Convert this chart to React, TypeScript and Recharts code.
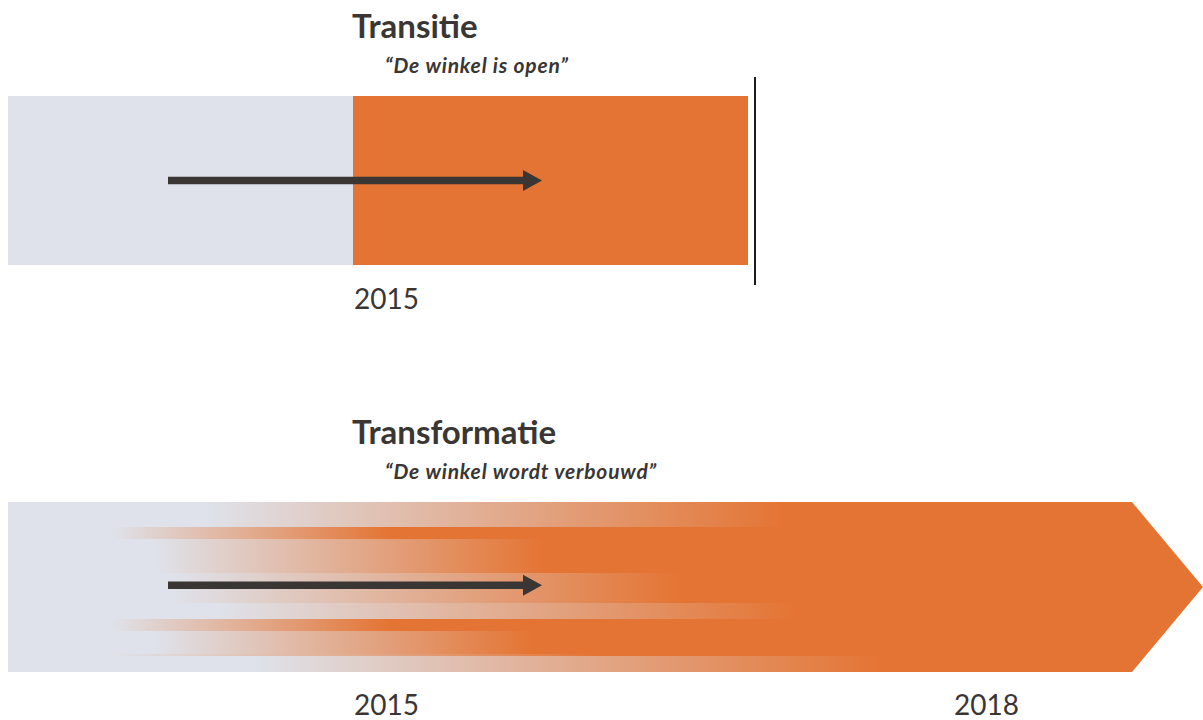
import { ComposedChart, XAxis, YAxis, ReferenceArea, ReferenceLine } from 'recharts'

// tijdas (jaren)
const START = 2013.275
const END = 2019.25
const transitieTicks = [2015]
const transformatieTicks = [2015, 2018]

// Transitie: grijs deel, oranje deel, eindstreep
const transitieGrey = [START, 2015]
const transitieOrange = [2015, 2016.975]
const transitieEnd = 2017.01
const transitieLine = [-0.112, 1.118]

// pijl "nu -> straks"
const arrowFrom = 2014.075
const arrowTo = 2015.945
const arrowLevel = [0.5, 0.49]

// Transformatie: banden van boven naar onder (fractie van balkhoogte)
const bandTop = [0, 0.147, 0.218, 0.418, 0.594, 0.688, 0.759, 0.894, 0.906]
const bandBottom = [0.147, 0.218, 0.418, 0.594, 0.688, 0.759, 0.894, 0.906, 1]
const fadeStart = [2014.27, 2013.795, 2014.01, 2014.1, 2014.325, 2013.795, 2014.01, 2013.795, 2014.5]
const fadeEnd = [2017.165, 2015.185, 2015.96, 2016.65, 2017.225, 2015.185, 2015.905, 2016.235, 2017.655]
const shoulder = 2018.895

const GREY = '#dfe2ea'
const ORANGE = '#e47433'
const INK = '#3a3634'
const FONT = 'Lato, "Open Sans", sans-serif'
const W = 1203

const YearTick = ({ x, y, payload, dy }: any) => (
  <text x={x + 1} y={y + dy} fill={INK} fontSize={28} fontFamily={FONT} textAnchor="start">
    {payload.value}
  </text>
)

const Arrow = (p: any) => {
  const { x1, y1, x2 } = p
  const head = 19
  return (
    <g>
      <line x1={x1} y1={y1} x2={x2 - head + 1} y2={y1} stroke={INK} strokeWidth={7.5} />
      <path d={`M${x2 - head},${y1 - 10.5}L${x2},${y1}L${x2 - head},${y1 + 10.5}Z`} fill={INK} />
    </g>
  )
}

const Tip = (p: any) => {
  const { x, y, width, height } = p
  return <path d={`M${x - 1},${y}L${x},${y}L${x + width},${y + height / 2}L${x},${y + height}L${x - 1},${y + height}Z`} fill={ORANGE} />
}

const Titles = ({ title, sub, barTop }: { title: string; sub: string; barTop: number }) => (
  <g fontFamily={FONT} fill={INK}>
    <text x={352} y={barTop - 58} fontSize={33} fontWeight={700}>{title}</text>
    <text x={385} y={barTop - 23} fontSize={21} fontWeight={700} fontStyle="italic" letterSpacing={0.8}>{sub}</text>
  </g>
)

export default function App() {
  return (
    <div style={{ position: 'absolute', left: 0, top: 0, width: W, height: 720, background: '#fff' }}>
      <ComposedChart width={W} height={360} margin={{ top: 96, right: 0, bottom: 0, left: 8 }} data={transitieTicks.map((x) => ({ x }))}>
        <XAxis type="number" dataKey="x" domain={[START, END]} ticks={transitieTicks} interval={0} allowDataOverflow
          axisLine={false} tickLine={false} tickSize={0} tickMargin={0} height={95} tick={<YearTick dy={44} />} />
        <YAxis type="number" domain={[0, 1]} reversed hide allowDataOverflow />
        <Titles title="Transitie" sub="“De winkel is open”" barTop={96} />
        <ReferenceArea x1={transitieGrey[0]} x2={transitieGrey[1]} y1={0} y2={1} fill={GREY} fillOpacity={1} stroke="none" shapeRendering="crispEdges" />
        <ReferenceArea x1={transitieOrange[0]} x2={transitieOrange[1]} y1={0} y2={1} fill={ORANGE} fillOpacity={1} stroke="none" shapeRendering="crispEdges" />
        <ReferenceLine ifOverflow="visible" stroke="#1d1b1a" strokeWidth={2}
          segment={[{ x: transitieEnd, y: transitieLine[0] }, { x: transitieEnd, y: transitieLine[1] }]} />
        <ReferenceLine ifOverflow="visible" shape={Arrow}
          segment={[{ x: arrowFrom, y: arrowLevel[0] }, { x: arrowTo, y: arrowLevel[0] }]} />
      </ComposedChart>
      <ComposedChart width={W} height={360} margin={{ top: 142, right: 0, bottom: 0, left: 8 }} data={transformatieTicks.map((x) => ({ x }))}>
        <defs>
          {bandTop.map((_, i) => {
            const s = (fadeStart[i] - START) / (fadeEnd[i] - START)
            return (
              <linearGradient key={i} id={`band${i}`} x1="0" y1="0" x2="1" y2="0">
                <stop offset={0} stopColor={GREY} />
                <stop offset={s} stopColor={GREY} />
                <stop offset={1} stopColor={ORANGE} />
              </linearGradient>
            )
          })}
        </defs>
        <XAxis type="number" dataKey="x" domain={[START, END]} ticks={transformatieTicks} interval={0} allowDataOverflow
          axisLine={false} tickLine={false} tickSize={0} tickMargin={0} height={48} tick={<YearTick dy={43} />} />
        <YAxis type="number" domain={[0, 1]} reversed hide allowDataOverflow />
        <Titles title="Transformatie" sub="“De winkel wordt verbouwd”" barTop={142} />
        <ReferenceArea x1={START} x2={shoulder} y1={0} y2={1} fill={ORANGE} fillOpacity={1} stroke="none" shapeRendering="crispEdges" />
        <ReferenceArea x1={shoulder} x2={END} y1={0} y2={1} fill={ORANGE} fillOpacity={1} stroke="none" shape={Tip} />
        {bandTop.map((t, i) => (
          <ReferenceArea key={i} x1={START} x2={fadeEnd[i]} y1={t} y2={bandBottom[i]} fill={`url(#band${i})`} fillOpacity={1}
            stroke="none" shapeRendering="crispEdges" />
        ))}
        <ReferenceLine ifOverflow="visible" shape={Arrow}
          segment={[{ x: arrowFrom, y: arrowLevel[1] }, { x: arrowTo, y: arrowLevel[1] }]} />
      </ComposedChart>
    </div>
  )
}
